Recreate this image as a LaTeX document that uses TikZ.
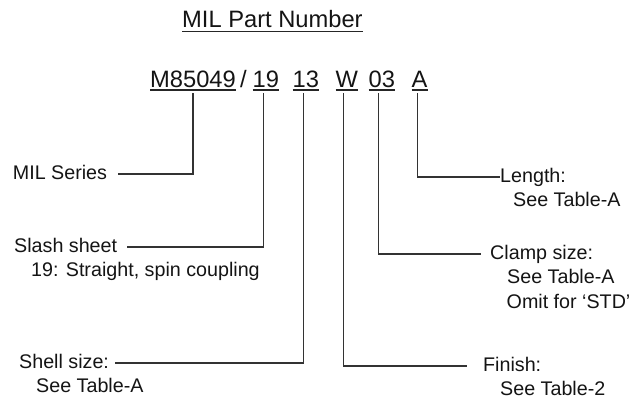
\documentclass[tikz,border=0pt]{standalone}
\usepackage{fontspec}
\setmainfont{Liberation Sans}
\begin{document}
\begin{tikzpicture}[x=1pt,y=-1pt,
  big/.style={inner sep=0pt,anchor=base west,font=\fontsize{23.7pt}{28pt}\selectfont,text=black!92},
  lbl/.style={inner sep=0pt,anchor=base west,font=\fontsize{19.7pt}{24pt}\selectfont,text=black!92},
  ul/.style={line width=1.3pt,draw=black!85},
  conn/.style={line width=1.1pt,draw=black!80}]
\useasboundingbox (0,0) rectangle (629,404);
% title
\node[big] (title) at (182,28) {MIL Part Number};
\draw[ul] ([yshift=-3.5pt]title.base west) -- ([yshift=-3.5pt]title.base east);
% part number
\node[big] (p1) at (150,87) {M85049};
\node[big] (sl) at (240,87) {/};
\node[big] (p2) at (252.5,87) {19};
\node[big] (p3) at (292.5,87) {13};
\node[big] (p4) at (335.5,87) {W};
\node[big] (p5) at (368.5,87) {03};
\node[big] (p6) at (411.5,87) {A};
\foreach \p in {p1,p2,p3,p4,p5,p6}{
  \draw[ul] ([yshift=-3pt]\p.base west) -- ([yshift=-3pt]\p.base east);
}
% labels left
\node[lbl] (l1) at (12.7,179) {MIL Series};
\node[lbl] (l2) at (14,252) {Slash sheet};
\node[lbl] (l2b) at (31,276.5) {19: Straight, spin coupling};
\node[lbl] (l3) at (19,368) {Shell size:};
\node[lbl] (l3b) at (36,392.5) {See Table-A};
% labels right
\node[lbl] (r1) at (500,182) {Length:};
\node[lbl] (r1b) at (513,206.5) {See Table-A};
\node[lbl] (r2) at (490,259) {Clamp size:};
\node[lbl] (r2b) at (507,283.5) {See Table-A};
\node[lbl] (r2c) at (506.5,308) {Omit for ‘STD’};
\node[lbl] (r3) at (483,371) {Finish:};
\node[lbl] (r3b) at (500,395.5) {See Table-2};
% connector ends
\coordinate (e1) at (118,174);
\coordinate (e2) at (127,247);
\coordinate (e3) at (115,363);
\coordinate (e6) at (500,177);
\coordinate (e5) at (481,254);
\coordinate (e4) at (467,366);
% connectors
\draw[conn] ([yshift=-6pt]p1.base) |- (e1);
\draw[conn] ([xshift=-2pt,yshift=-6pt]p2.base) |- (e2);
\draw[conn] ([xshift=-2.5pt,yshift=-6pt]p3.base) |- (e3);
\draw[conn] ([xshift=-3pt,yshift=-6pt]p4.base) |- (e4);
\draw[conn] ([xshift=-3pt,yshift=-6pt]p5.base) |- (e5);
\draw[conn] ([xshift=-2.5pt,yshift=-6pt]p6.base) |- (e6);
\end{tikzpicture}
\end{document}
